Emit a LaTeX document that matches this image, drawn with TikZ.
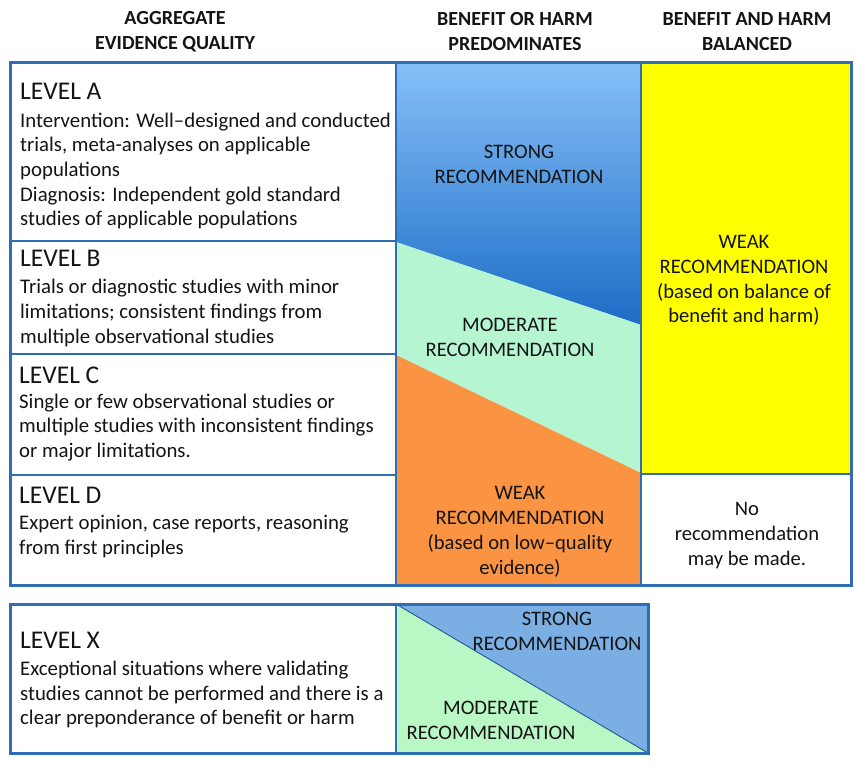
\documentclass[tikz,border=0pt]{standalone}
\usepackage{fontspec}
\setmainfont{Carlito}
\definecolor{bordblue}{HTML}{2F6EB5}
\definecolor{strongtop}{HTML}{86C0F8}
\definecolor{strongbot}{HTML}{1C6CC6}
\definecolor{modgreen}{HTML}{B5F5D2}
\definecolor{weakorange}{HTML}{FA9442}
\definecolor{weakyellow}{HTML}{FFFF00}
\definecolor{xblue}{HTML}{7BAEE2}
\definecolor{xgreen}{HTML}{B9F7C4}
\definecolor{txt}{HTML}{141414}
\begin{document}
\begin{tikzpicture}[x=1pt,y=-1pt,
  leveltitle/.style={font=\fontsize{25.5}{30}\selectfont, anchor=west, inner sep=0, text=txt},
  levelbody/.style={font=\fontsize{20.8}{24.6}\selectfont, align=left, anchor=west, inner sep=0, text=txt},
  rectext/.style={font=\fontsize{20.6}{24.8}\selectfont, align=center, inner sep=0, text=txt},
  headtext/.style={font=\bfseries\fontsize{20}{24.5}\selectfont, align=center, inner sep=0, text=txt},
  outerline/.style={draw=bordblue, line width=3pt},
  innerline/.style={draw=bordblue, line width=1.5pt},
  midline/.style={draw=bordblue, line width=2.2pt}]
\useasboundingbox (0,0) rectangle (854,763);
\fill[white] (0,0) rectangle (854,763);

% headers
\node[headtext] (h1) at (175,31.5) {AGGREGATE\\EVIDENCE QUALITY};
\node[headtext] (h2) at (515,31.5) {BENEFIT OR HARM\\PREDOMINATES};
\node[headtext] (h3) at (747,31.5) {BENEFIT AND HARM\\BALANCED};

% middle column fills
\shade[top color=strongtop, bottom color=strongbot] (396,62) -- (641,62) -- (641,325) -- (396,242) -- cycle;
\fill[modgreen] (396,242) -- (641,325) -- (641,473) -- (396,355) -- cycle;
\fill[weakorange] (396,355) -- (641,473) -- (641,585) -- (396,585) -- cycle;
% right column fills
\fill[weakyellow] (641,62) rectangle (851,474);
\fill[white] (641,474) rectangle (851,585);

% grid lines
\draw[innerline] (10,241) -- (396,241);
\draw[innerline] (10,354) -- (396,354);
\draw[innerline] (10,475) -- (396,475);
\draw[innerline] (641,474) -- (851,474);
\draw[midline] (396,62) -- (396,585);
\draw[midline] (641,62) -- (641,585);
\draw[outerline] (10,62) rectangle (851,585);

% level X box
\fill[xgreen] (396,604) rectangle (648,753);
\fill[xblue] (396,604) -- (648,604) -- (648,753) -- cycle;
\draw[draw=bordblue!80!black, line width=0.9pt] (396,604) -- (648,753);
\draw[midline] (396,604) -- (396,753);
\draw[outerline] (10,604) rectangle (648,753);

% left column texts
\node[leveltitle] (ta) at (20,91.5) {LEVEL A};
\node[levelbody] (ba) at (20,171) {Intervention: Well–designed and conducted\\trials, meta-analyses on applicable\\populations\\Diagnosis: Independent gold standard\\studies of applicable populations};
\node[leveltitle] (tb) at (20,258) {LEVEL B};
\node[levelbody] (bb) at (20,313) {Trials or diagnostic studies with minor\\limitations; consistent findings from\\multiple observational studies};
\node[leveltitle] (tc) at (19,375) {LEVEL C};
\node[levelbody] (bc) at (19,427.5) {Single or few observational studies or\\multiple studies with inconsistent findings\\or major limitations.};
\node[leveltitle] (td) at (19,495) {LEVEL D};
\node[levelbody] (bd) at (19,536.5) {Expert opinion, case reports, reasoning\\from first principles};
\node[leveltitle] (tx) at (20,640.5) {LEVEL X};
\node[levelbody] (bx) at (20,694.5) {Exceptional situations where validating\\studies cannot be performed and there is a\\clear preponderance of benefit or harm};

% recommendation texts
\node[rectext] (rs) at (519,164.5) {STRONG\\RECOMMENDATION};
\node[rectext] (rm) at (510,337.5) {MODERATE\\RECOMMENDATION};
\node[rectext] (rw) at (520,532) {WEAK\\RECOMMENDATION\\(based on low–quality\\evidence)};
\node[rectext] (rb) at (744,280.5) {WEAK\\RECOMMENDATION\\(based on balance of\\benefit and harm)};
\node[rectext] (rn) at (747,535.5) {No\\recommendation\\may be made.};
\node[rectext] (xs) at (557,631) {STRONG\\RECOMMENDATION};
\node[rectext] (xm) at (491,720) {MODERATE\\RECOMMENDATION};
\end{tikzpicture}
\end{document}
